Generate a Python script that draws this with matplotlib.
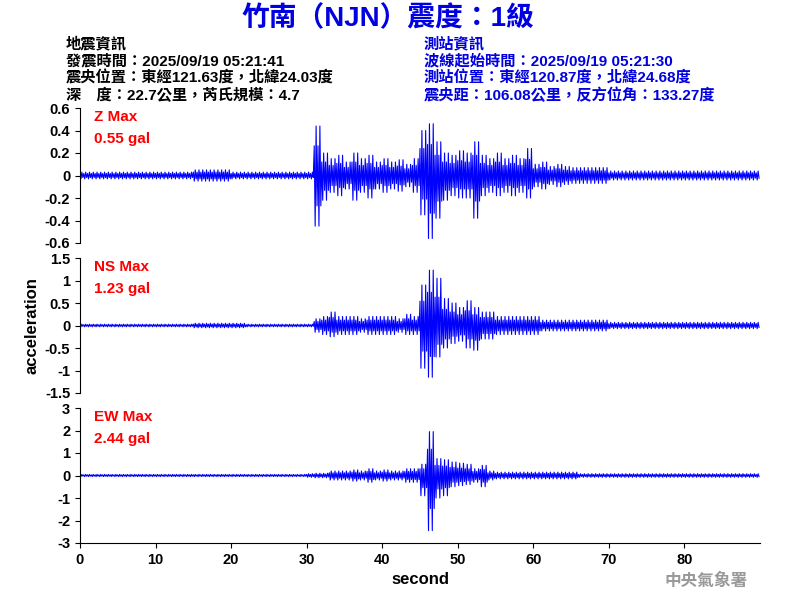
import numpy as np
import matplotlib
matplotlib.use("Agg")
import matplotlib.pyplot as plt

plt.rcParams['font.family'] = ['Liberation Sans', 'Noto Sans CJK TC', 'DejaVu Sans']

seconds = list(range(90))
# per-second upper / lower envelope
z_up = [0.03]*15 + [0.05]*5 + [0.03]*11 + [0.44,0.2,0.15,0.18,0.12,0.2,0.15,0.18,0.12,0.15,0.12,0.14,0.1,0.15,
        0.4,0.46,0.3,0.2,0.18,0.22,0.2,0.3,0.18,0.15,0.2,0.15,0.18,0.15,0.24,0.1,0.12,0.08,0.1,0.08,
        0.07,0.07,0.07,0.07,0.07] + [0.04]*20
z_lo = [-0.03]*15 + [-0.05]*5 + [-0.03]*11 + [-0.45,-0.22,-0.15,-0.18,-0.12,-0.22,-0.15,-0.2,-0.12,-0.15,-0.12,-0.14,-0.1,-0.15,
        -0.35,-0.56,-0.38,-0.22,-0.18,-0.2,-0.2,-0.38,-0.18,-0.15,-0.18,-0.15,-0.18,-0.15,-0.2,-0.1,-0.12,-0.08,-0.1,-0.08,
        -0.07,-0.07,-0.07,-0.07,-0.07] + [-0.04]*20
ns_up = [0.03]*15 + [0.05]*7 + [0.03]*9 + [0.15,0.2,0.3,0.2,0.2,0.2,0.15,0.2,0.2,0.2,0.2,0.15,0.25,0.2,
         0.9,1.23,1.05,0.6,0.5,0.4,0.55,0.4,0.3,0.3,0.2,0.2,0.2,0.2,0.2,0.2,0.12,0.12,0.12,0.12,
         0.12,0.12,0.12,0.12,0.12] + [0.07]*20
ns_lo = [-0.03]*15 + [-0.05]*7 + [-0.03]*9 + [-0.15,-0.2,-0.25,-0.2,-0.2,-0.2,-0.15,-0.2,-0.2,-0.2,-0.2,-0.15,-0.2,-0.2,
         -0.95,-1.15,-0.7,-0.5,-0.4,-0.35,-0.5,-0.55,-0.3,-0.3,-0.2,-0.2,-0.2,-0.2,-0.2,-0.2,-0.12,-0.12,-0.12,-0.12,
         -0.12,-0.12,-0.12,-0.12,-0.12] + [-0.07]*20
ew_up = [0.05]*30 + [0.08,0.1,0.1,0.2,0.2,0.2,0.25,0.2,0.3,0.2,0.25,0.2,0.2,0.3,0.3,
         0.5,1.95,0.75,0.7,0.6,0.55,0.5,0.3,0.45,0.2,0.15,0.15,0.15,0.15,0.15,0.15,0.15,0.15,0.15,0.15,0.15] + [0.08]*24
ew_lo = [-0.05]*30 + [-0.08,-0.1,-0.1,-0.2,-0.2,-0.2,-0.25,-0.2,-0.3,-0.2,-0.25,-0.2,-0.2,-0.3,-0.3,
         -0.9,-2.45,-1.0,-0.9,-0.5,-0.45,-0.4,-0.3,-0.5,-0.2,-0.15,-0.15,-0.15,-0.15,-0.15,-0.15,-0.15,-0.15,-0.15,-0.15,-0.15] + [-0.08]*24

channels = [("Z Max", "0.55 gal", z_up, z_lo, 0.6, [0.6,0.4,0.2,0,-0.2,-0.4,-0.6], ['0.6','0.4','0.2','0','-0.2','-0.4','-0.6']),
            ("NS Max", "1.23 gal", ns_up, ns_lo, 1.5, [1.5,1,0.5,0,-0.5,-1,-1.5], ['1.5','1','0.5','0','-0.5','-1','-1.5']),
            ("EW Max", "2.44 gal", ew_up, ew_lo, 3, [3,2,1,0,-1,-2,-3], ['3','2','1','0','-1','-2','-3'])]

fig = plt.figure(figsize=(8, 6), dpi=100)
bottoms = [0.595, 0.345, 0.095]
for i, (name, val, up, lo, lim, ticks, labels) in enumerate(channels):
    ax = fig.add_axes([0.1, bottoms[i], 0.85, 0.225])
    xs, ys = [], []
    for t, u, l in zip(seconds, up, lo):
        for k in range(4):
            xs += [t + k/4, t + k/4 + 0.125]
            ys += [u * (0.6 + 0.4*(k % 2)), l * (1 - 0.4*(k % 2))]
    ax.plot(xs, ys, color='blue', lw=0.8)
    ax.set_xlim(0, 90)
    ax.set_ylim(-lim, lim)
    ax.set_yticks(ticks)
    ax.set_yticklabels(labels, fontsize=10.5, fontweight='bold')
    for s in ['top', 'right']:
        ax.spines[s].set_visible(False)
    ax.text(0.02, 0.93, name, transform=ax.transAxes, color='red', fontsize=11, fontweight='bold', va='center')
    ax.text(0.02, 0.77, val, transform=ax.transAxes, color='red', fontsize=11, fontweight='bold', va='center')
    if i < 2:
        ax.spines['bottom'].set_visible(False)
        ax.set_xticks([])
    else:
        ax.set_xticks(range(0, 90, 10))
        ax.set_xticklabels([str(v) for v in range(0, 90, 10)], fontsize=10.5, fontweight='bold')
        ax.set_xlabel('second', fontsize=12, fontweight='bold')
    if i == 1:
        ax.set_ylabel('acceleration', fontsize=12, fontweight='bold')

cjk = ['Liberation Sans', 'Noto Sans CJK TC', 'DejaVu Sans']
fig.text(0.485, 0.968, '竹南（NJN）震度：1級', color='#0000e0', fontsize=20, fontweight='bold', ha='center', va='center', family=cjk)
left_lines = ['地震資訊', '發震時間：2025/09/19 05:21:41', '震央位置：東經121.63度，北緯24.03度', '深　度：22.7公里，芮氏規模：4.7']
right_lines = ['測站資訊', '波線起始時間：2025/09/19 05:21:30', '測站位置：東經120.87度，北緯24.68度', '震央距：106.08公里，反方位角：133.27度']
for j, (a, b) in enumerate(zip(left_lines, right_lines)):
    y = 0.927 - j*0.0285
    fig.text(0.082, y, a, color='black', fontsize=11, fontweight='semibold', va='center', family=cjk)
    fig.text(0.53, y, b, color='#0000e0', fontsize=11, fontweight='semibold', va='center', family=cjk)
fig.text(0.935, 0.032, '中央氣象署', color='#999999', fontsize=12, fontweight='bold', ha='right', va='center', family=cjk)

fig.savefig('out.png', dpi=100)
